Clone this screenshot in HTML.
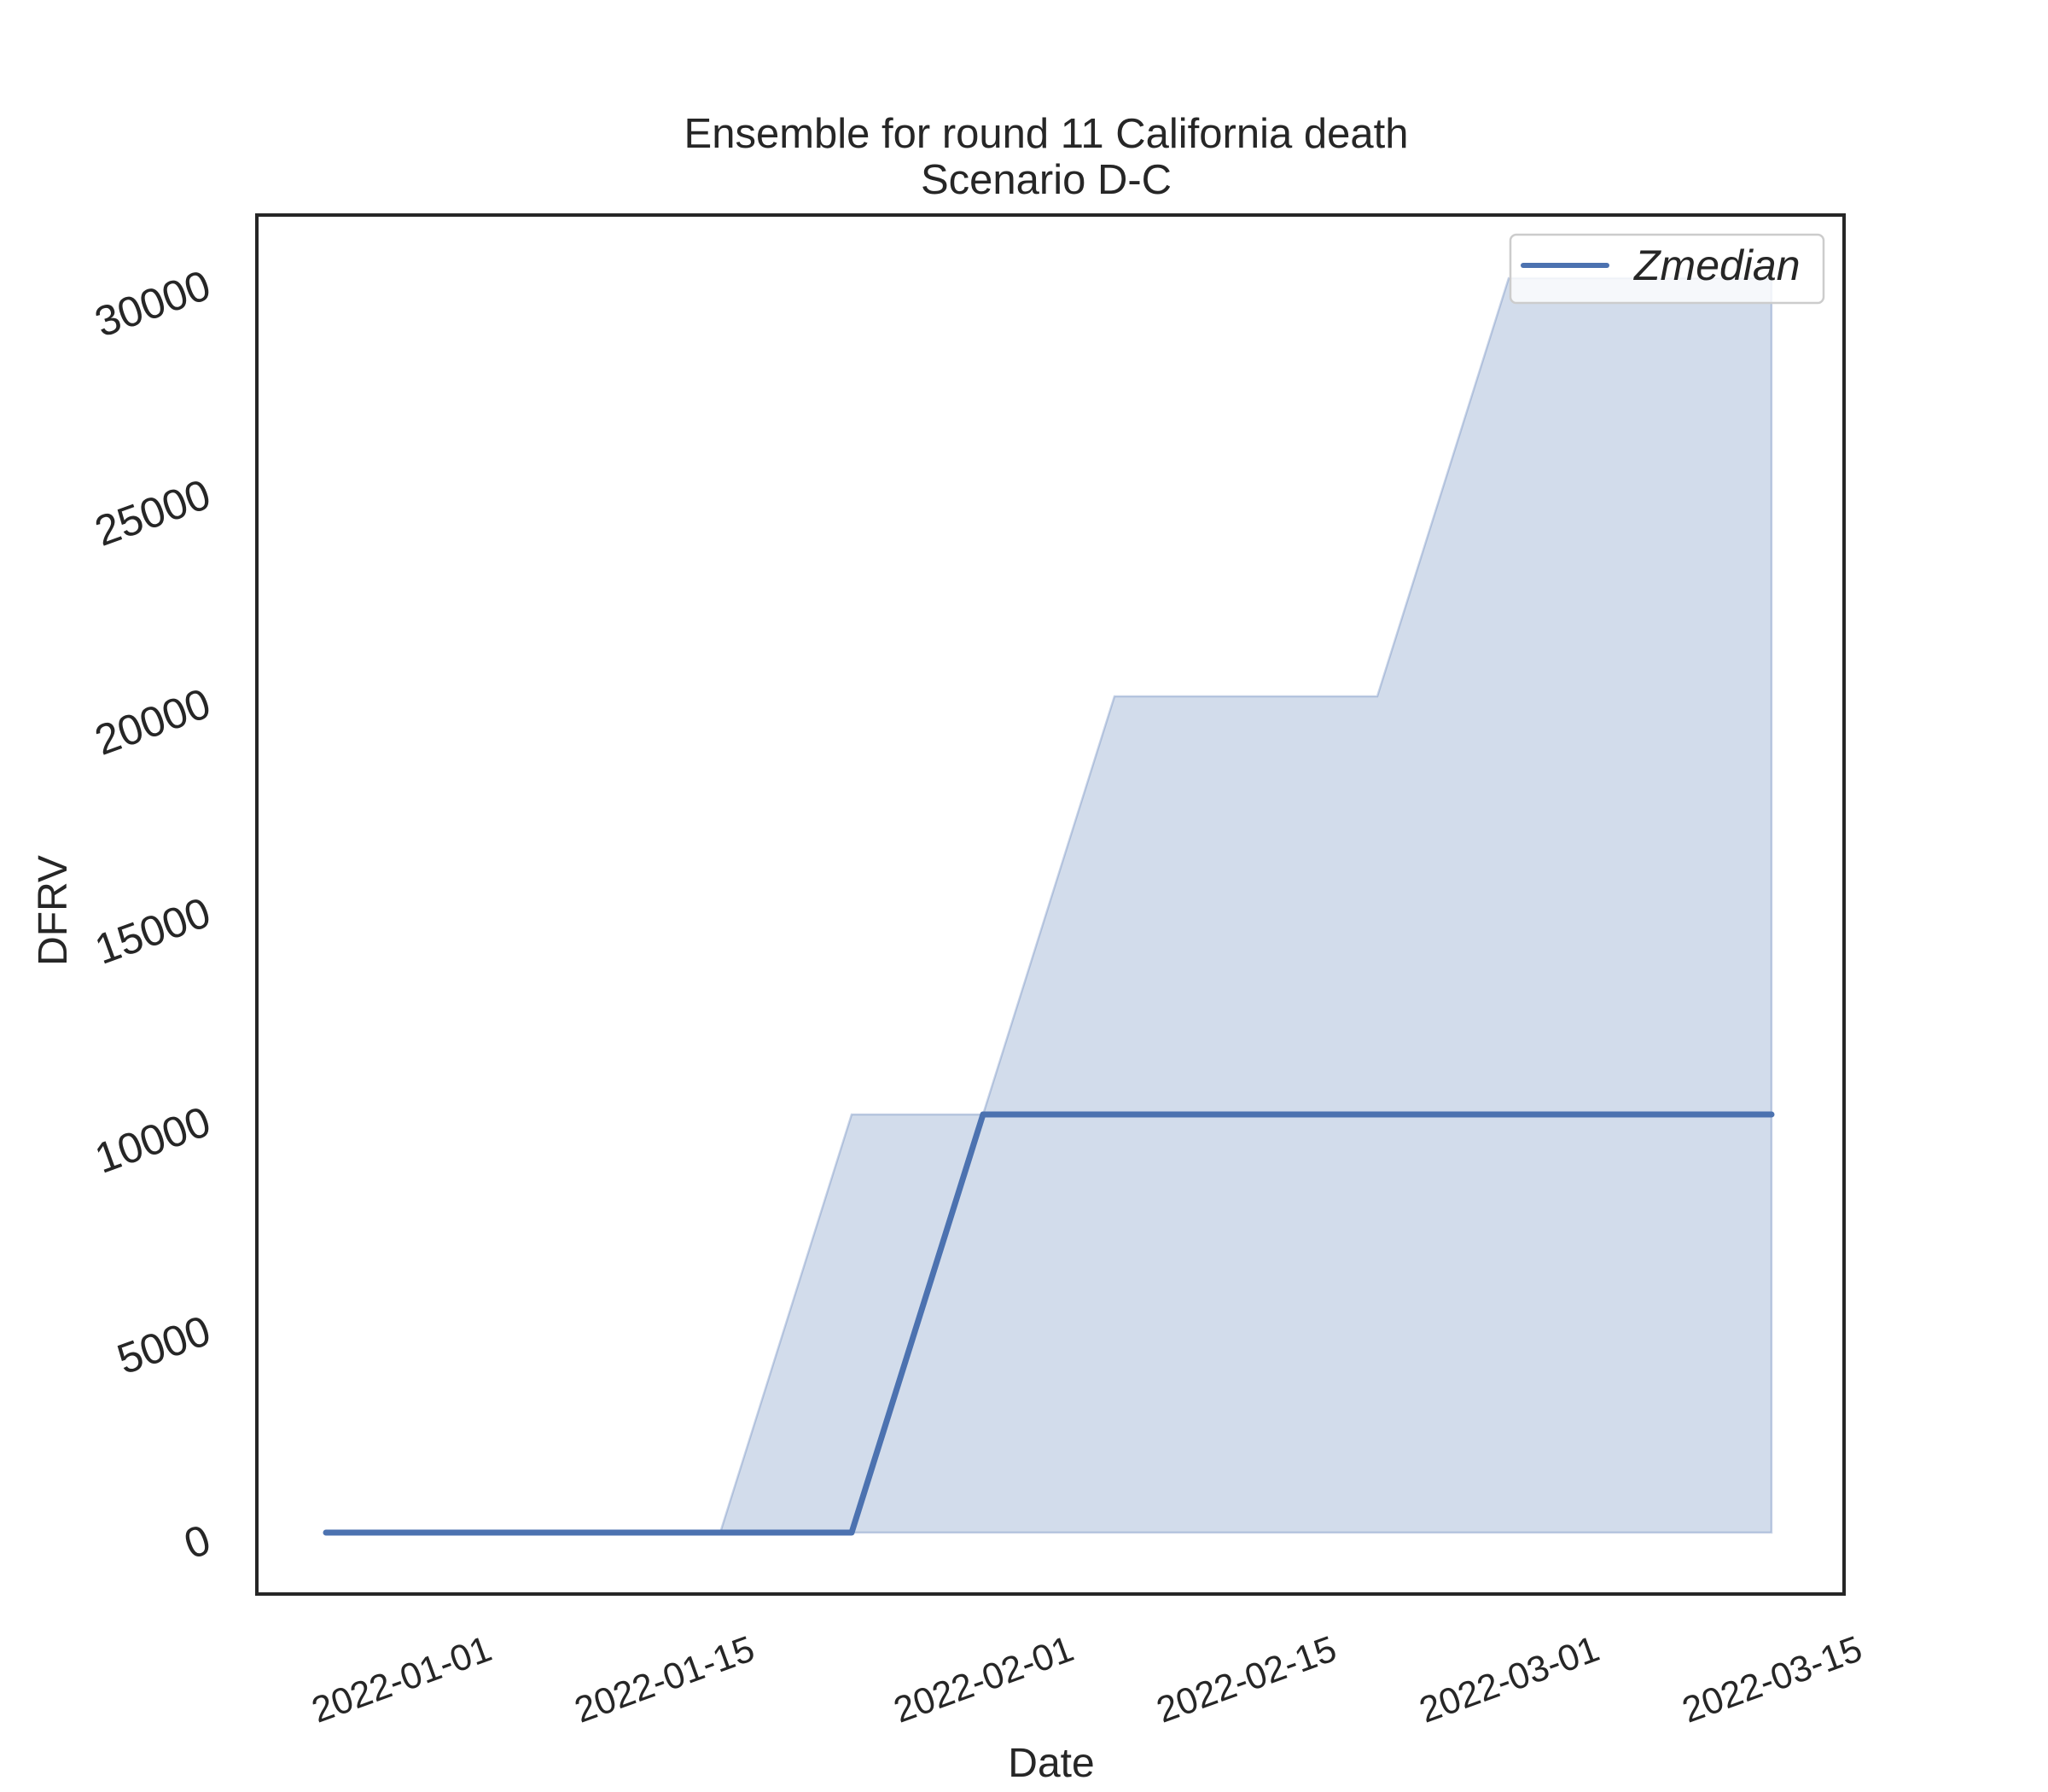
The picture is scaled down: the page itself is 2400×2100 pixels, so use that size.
<!DOCTYPE html>
<html><head><meta charset="utf-8"><style>
html,body{margin:0;padding:0;background:#fff;}
svg{display:block;font-family:"Liberation Sans",sans-serif;}
</style></head><body>
<svg id="chart" width="2400" height="2100" viewBox="0 0 2400 2100">
<text x="1226" y="173" font-size="49" text-anchor="middle" fill="#262626">Ensemble for round 11 California death</text>
<text x="1226" y="227" font-size="49" text-anchor="middle" fill="#262626">Scenario D-C</text>
<g id="plot"></g>
<rect x="301" y="252" width="1860" height="1616" fill="none" stroke="#262626" stroke-width="4"/>
<text x="1232" y="2082" font-size="48" text-anchor="middle" fill="#262626">Date</text>
<text transform="translate(78,1067) rotate(-90)" font-size="48" text-anchor="middle" fill="#262626">DFRV</text>
<g>
<rect x="1770" y="275" width="367" height="80" rx="7" fill="#fff" fill-opacity="0.8" stroke="#cccccc" stroke-width="2.5"/>
<line x1="1785" y1="311" x2="1883" y2="311" stroke="#4c72b0" stroke-width="6" stroke-linecap="round"/>
<text x="1915" y="328" font-size="50" font-style="italic" fill="#262626">Zmedian</text>
</g>
</svg>
<script>
const dates = ["2021-12-25","2022-01-01","2022-01-08","2022-01-15","2022-01-22","2022-01-29","2022-02-05","2022-02-12","2022-02-19","2022-02-26","2022-03-05","2022-03-12"];
const median = [0,0,0,0,0,10000,10000,10000,10000,10000,10000,10000];
const upper = [0,0,0,0,10000,10000,20000,20000,20000,30000,30000,30000];
const lower = [0,0,0,0,0,0,0,0,0,0,0,0];
const xTicks = ["2022-01-01","2022-01-15","2022-02-01","2022-02-15","2022-03-01","2022-03-15"];
const yTicks = [0,5000,10000,15000,20000,25000,30000];

const NS="http://www.w3.org/2000/svg";
const day0=Date.parse("2021-12-25");
function X(d){return 382+(Date.parse(d)-day0)/86400000*22.0;}
function Y(v){return 1796-v*0.049;}
const g=document.getElementById('plot');
function mk(t,a){const e=document.createElementNS(NS,t);for(const k in a)e.setAttribute(k,a[k]);g.appendChild(e);return e;}

let pts=dates.map((d,i)=>X(d)+","+Y(upper[i]));
for(let i=dates.length-1;i>=0;i--)pts.push(X(dates[i])+","+Y(lower[i]));
const band=mk('polygon',{points:pts.join(' '),fill:'#4c72b0','fill-opacity':0.25,stroke:'#4c72b0','stroke-opacity':0.3,'stroke-width':2.5});



const line=mk('polyline',{points:dates.map((d,i)=>X(d)+","+Y(median[i])).join(' '),fill:'none',stroke:'#4c72b0','stroke-width':7,'stroke-linejoin':'round','stroke-linecap':'round'});



yTicks.forEach(v=>{
  const y=Y(v)+22;
  const t=mk('text',{x:250,y:y,'font-size':50,'text-anchor':'end',fill:'#262626',transform:`rotate(-20 250 ${y})`});
  t.textContent=v;
  
  
});
xTicks.forEach(d=>{
  const x=X(d)+43;
  const t=mk('text',{x:x,y:1944,'font-size':43,'text-anchor':'end',fill:'#262626',transform:`rotate(-20 ${x} 1944)`});
  t.textContent=d;
  
  
});
</script>
</body></html>
